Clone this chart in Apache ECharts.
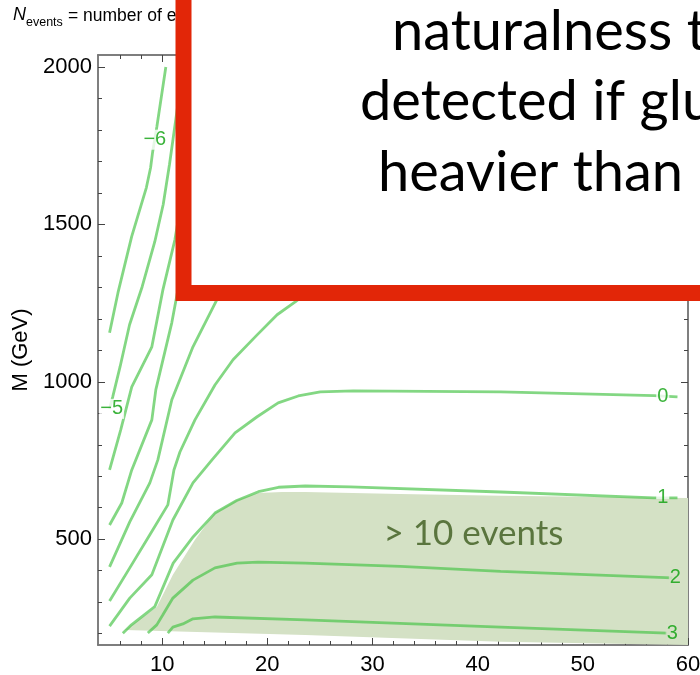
<!DOCTYPE html>
<html><head><meta charset="utf-8">
<script src="https://cdn.jsdelivr.net/npm/echarts@6/dist/echarts.min.js"></script>
<style>html,body{margin:0;padding:0;background:#fff}#c{width:700px;height:675px}</style>
</head><body><div id="c"></div>
<script>
// ---- axis ticks ----
const xMajorTicks = [10, 20, 30, 40, 50, 60];
const xMinorTicks = [6, 8, 12, 14, 16, 18, 22, 24, 26, 28, 32, 34, 36, 38, 42, 44, 46, 48, 52, 54, 56, 58];
const yMajorTicks = [500, 1000, 1500, 2000];
const yMinorTicks = [200, 300, 400, 600, 700, 800, 900, 1100, 1200, 1300, 1400, 1600, 1700, 1800, 1900];

// ---- contour lines (log10 N_events), [x, M (GeV)] ----
const contourM6 = [[5.0,1156],[5.8,1283],[7.1,1461],[8.5,1617],[8.9,1680],[9.1,1731],[9.5,1811],[10.35,2000]];
const contourM5 = [[5.0,914],[5.3,952],[6.0,1048],[6.9,1181],[8.1,1302],[9.3,1445],[10.1,1563],[10.7,1691],[11.3,1834],[12.0,2000]];
const contourM4 = [[5.0,720],[6.06,847],[7.11,984],[9.02,1111],[10.07,1292],[11.21,1451],[12.64,1737],[14.07,2000]];
const contourM3 = [[5.0,545],[6.16,615],[7.11,720],[9.02,879],[9.40,975],[10.92,1188],[11.50,1292],[13.12,1579],[15.98,2000]];
const contourM2 = [[5.0,412],[6.92,555],[8.83,679],[9.59,752],[10.92,943],[12.93,1111],[15.21,1261],[18.36,1451],[23.13,1737],[28.85,2000]];
const contourM1 = [[5.0,304],[6.92,409],[8.83,514],[10.54,609],[11.12,720],[11.69,777],[13.12,879],[15.02,990],[16.74,1070],[19.03,1149],[20.93,1213],[22.65,1254],[25.99,1340],[30.75,1420],[40.29,1483],[59,1515]];
const contour0 = [[5.0,224],[6.92,313],[9.02,387],[11.02,561],[12.93,679],[14.74,752],[16.93,838],[19.03,889],[21.03,933],[22.94,955],[25.03,968],[28.18,971],[42.19,968],[56.77,956],[59.0,952]];
const contour1 = [[6.26,201],[7.08,228],[9.30,286],[11.05,424],[12.96,508],[15.02,583],[17.09,623],[19.15,651],[21.06,665],[23.60,669],[27.89,666],[42.19,650],[56.77,631],[59.0,631]];
const contour2 = [[8.64,202],[9.49,228],[10.07,260],[11.02,313],[12.93,370],[15.02,409],[17.12,424],[19.12,427],[23.60,424],[32.66,414],[42.19,398],[58.5,377]];
const contour3 = [[10.54,202],[11.02,221],[11.97,231],[12.93,247],[15.02,253],[23.60,244],[42.19,221],[58.0,202]];

// ---- contour labels ----
const labelText = ['\u22126', '\u22125', '0', '1', '2', '3'];
const labelPos = [[9.3,1769],[5.2,914],[57.6,952],[57.6,634],[58.8,379],[58.5,202]];

// ---- region with more than 10 events ----
const fillRegion = [[6.45,212],[9.49,285],[11.02,387],[13.12,498],[15.02,584],[17.12,625],[19.12,647],[21.41,650],[23.6,650],[32.66,644],[42.19,638],[60,631],[60,164],[42.19,174],[23.6,196],[6.45,212]];
const regionText = ['> 10 events'];
const regionTextPos = [[39.6,517]];

const contours = [contourM6, contourM5, contourM4, contourM3, contourM2, contourM1, contour0, contour1, contour2, contour3];

const X_MIN = 3.9, X_MAX = 60, Y_MIN = 164, Y_MAX = 2038;
const FRAME = '#777';
const TICK = '#444';
const FILL = '#d4e1c5';

function xAx(pos, ticks, len, withLabels) {
  return {
    type: 'value', gridIndex: 0, min: X_MIN, max: X_MAX, position: pos,
    axisLine: { show: true, lineStyle: { color: FRAME, width: 1.5 } },
    splitLine: { show: false },
    axisTick: { show: true, inside: true, length: len, customValues: ticks, lineStyle: { color: TICK, width: 1 } },
    axisLabel: withLabels ? { show: true, customValues: ticks, formatter: v => String(v), color: '#000', fontSize: 22, fontFamily: 'Liberation Sans', margin: 9 } : { show: false }
  };
}
function yAx(pos, ticks, len, withLabels) {
  return {
    type: 'value', gridIndex: 0, min: Y_MIN, max: Y_MAX, position: pos,
    axisLine: { show: true, lineStyle: { color: FRAME, width: 1.5 } },
    splitLine: { show: false },
    axisTick: { show: true, inside: true, length: len, customValues: ticks, lineStyle: { color: TICK, width: 1 } },
    axisLabel: withLabels ? { show: true, customValues: ticks, formatter: v => String(v), color: '#000', fontSize: 22, fontFamily: 'Liberation Sans', margin: 6 } : { show: false }
  };
}

const yMain = yAx('left', yMajorTicks, 7, true);
yMain.name = 'M (GeV)';
yMain.nameLocation = 'middle';
yMain.nameRotate = 90;
yMain.nameGap = 62;
yMain.nameTextStyle = { fontSize: 22, fontFamily: 'Liberation Sans', color: '#000' };

const lineSeries = contours.map((d) => ({
  type: 'line', xAxisIndex: 0, yAxisIndex: 0, data: d, showSymbol: false, symbol: 'none',
  silent: true, z: 3, clip: true,
  lineStyle: { color: 'rgba(72,196,72,0.68)', width: 2.8 }
}));

const splitBg = new echarts.graphic.LinearGradient(0, 0, 0, 1, [
  { offset: 0, color: '#fff' }, { offset: 0.58, color: '#fff' },
  { offset: 0.58, color: FILL }, { offset: 1, color: FILL }
]);
const labelBg = ['#fff', '#fff', '#fff', splitBg, FILL, FILL];

const option = {
  animation: false,
  grid: { left: 98, right: 12, top: 55, bottom: 30, containLabel: false, outerBoundsMode: 'none' },
  xAxis: [xAx('bottom', xMajorTicks, 7, true), xAx('bottom', xMinorTicks, 4, false), xAx('top', xMajorTicks, 7, false), xAx('top', xMinorTicks, 4, false)],
  yAxis: [yMain, yAx('left', yMinorTicks, 4, false), yAx('right', yMajorTicks, 7, false), yAx('right', yMinorTicks, 4, false)],
  series: [
    {
      type: 'custom', xAxisIndex: 0, yAxisIndex: 0, z: 1, silent: true, clip: true,
      data: [fillRegion[0]],
      renderItem: (params, api) => ({
        type: 'polygon',
        shape: { points: fillRegion.map(p => api.coord(p)) },
        style: { fill: FILL }
      })
    },
    ...lineSeries,
    {
      type: 'scatter', xAxisIndex: 0, yAxisIndex: 0, z: 5, silent: true, symbolSize: 0,
      data: labelPos.map((p, i) => ({
        value: p,
        label: { backgroundColor: labelBg[i] }
      })),
      label: {
        show: true, position: 'inside', formatter: p => labelText[p.dataIndex],
        color: '#0aa00a', fontSize: 20, fontFamily: 'Liberation Sans', padding: [0, 1]
      }
    },
    {
      type: 'scatter', xAxisIndex: 0, yAxisIndex: 0, z: 6, silent: true, symbolSize: 0,
      data: regionTextPos,
      label: {
        show: true, position: 'inside', formatter: p => regionText[p.dataIndex],
        color: '#3b5a1c', fontSize: 35, fontFamily: 'Lato'
      }
    }
  ],
  graphic: [
    { type: 'text', left: 13, top: 6, z: 10, style: { text: 'N', font: 'italic 18px "Liberation Sans"', fill: '#000' } },
    { type: 'text', left: 26, top: 16, z: 10, style: { text: 'events', font: '12.5px "Liberation Sans"', fill: '#000' } },
    { type: 'text', left: 68, top: 7, z: 10, style: { text: '= number of events', font: '17.5px "Liberation Sans"', fill: '#000' } },
    { type: 'rect', z: 100, silent: true, shape: { x: 183.5, y: -50, width: 700, height: 343 },
      style: { fill: '#fff', stroke: 'rgb(226,38,8)', lineWidth: 16 } },
    { type: 'text', z: 101, x: 392, y: 32, style: { text: 'naturalness t', font: '56px Lato', fill: '#000', verticalAlign: 'middle' } },
    { type: 'text', z: 101, x: 360, y: 102, style: { text: 'detected if gluinos', font: '56px Lato', fill: '#000', verticalAlign: 'middle' } },
    { type: 'text', z: 101, x: 378, y: 173, style: { text: 'heavier than', font: '56px Lato', fill: '#000', verticalAlign: 'middle' } }
  ]
};

const chart = echarts.init(document.getElementById('c'), null, { renderer: 'canvas' });
chart.setOption(option);
</script>
</body></html>
